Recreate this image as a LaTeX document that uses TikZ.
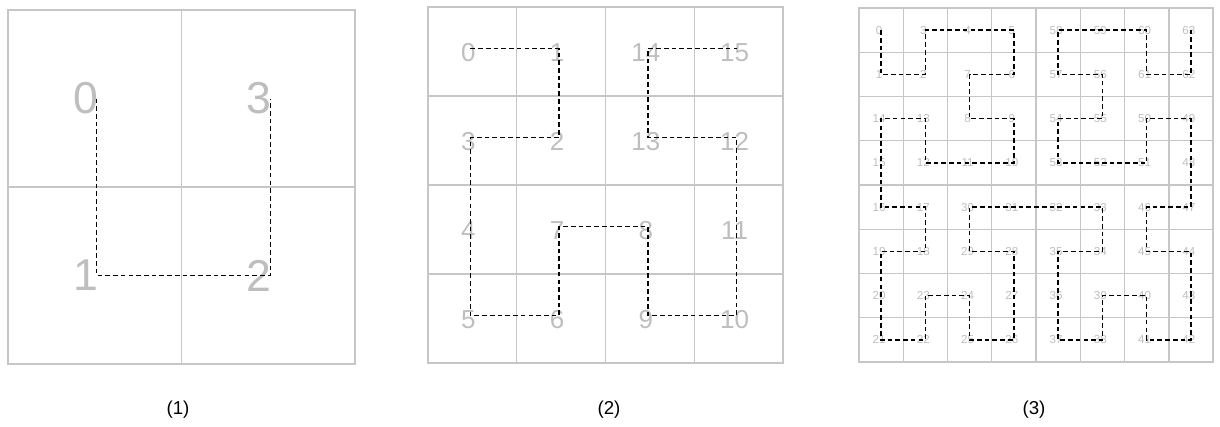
\documentclass[tikz,border=0pt]{standalone}
\usepackage{fontspec}
\setmainfont{Liberation Sans}
\usetikzlibrary{positioning}
\definecolor{gridgray}{HTML}{C6C6C6}
\definecolor{labelgray}{HTML}{BEBEBE}

\begin{document}
\begin{tikzpicture}[
  x=0.75pt, y=-0.75pt,
  grid/.style={draw=gridgray, line width=1.1pt},
  curve/.style={draw=black, line width=1pt, dash pattern=on 3.5pt off 2.3pt},
  num/.style={text=labelgray, inner sep=0pt},
  captext/.style={font=\fontsize{14}{16}\selectfont, inner sep=0pt}
]
\useasboundingbox (0,0) rectangle (1220,426);

% (1) order 1
\draw[grid] (8,10) rectangle (355,364);
\draw[grid] (181.5,10) -- (181.5,364);
\draw[grid] (8,187) -- (355,187);
\foreach \row [count=\r from 0] in {{0,3},{1,2}} {
  \foreach \n [count=\c from 0] in \row {
    \coordinate (a\n) at ({8+173.5*(\c+0.5)+2},{10+177*(\r+0.5)});
    \node[num, font=\fontsize{33.5}{38}\selectfont] (la\n)
      at ({8+173.5*(\c+0.5)-9},{10+177*(\r+0.5)}) {\n};
  }
}
\draw[curve] (a0) \foreach \i in {1,...,3} {-- (a\i)};
\node[captext] (cap1) at (178,410) {(1)};

% (2) order 2
\draw[grid] (428,7) rectangle (783,363);
\foreach \k in {1,2,3} {
  \draw[grid] ({428+88.75*\k},7) -- ({428+88.75*\k},363);
  \draw[grid] (428,{7+89*\k}) -- (783,{7+89*\k});
}
\foreach \row [count=\r from 0] in {{0,1,14,15},{3,2,13,12},{4,7,8,11},{5,6,9,10}} {
  \foreach \n [count=\c from 0] in \row {
    \coordinate (b\n) at ({428+88.75*(\c+0.5)-2},{7+89*(\r+0.5)-3});
    \node[num, font=\fontsize{19.5}{22}\selectfont] (lb\n)
      at ({428+88.75*(\c+0.5)-4},{7+89*(\r+0.5)+1}) {\n};
  }
}
\draw[curve] (b0) \foreach \i in {1,...,15} {-- (b\i)};
\node[captext] (cap2) at (609,410) {(2)};

% (3) order 3
\draw[grid] (859,8) rectangle (1213,362);
\foreach \k in {1,...,7} {
  \draw[grid] ({859+44.25*\k},8) -- ({859+44.25*\k},362);
  \draw[grid] (859,{8+44.25*\k}) -- (1213,{8+44.25*\k});
}
\foreach \row [count=\r from 0] in {
    {0,3,4,5,58,59,60,63},
    {1,2,7,6,57,56,61,62},
    {14,13,8,9,54,55,50,49},
    {15,12,11,10,53,52,51,48},
    {16,17,30,31,32,33,46,47},
    {19,18,29,28,35,34,45,44},
    {20,23,24,27,36,39,40,43},
    {21,22,25,26,37,38,41,42}} {
  \foreach \n [count=\c from 0] in \row {
    \coordinate (c\n) at ({859+44.25*(\c+0.5)},{8+44.25*(\r+0.5)});
    \node[num, font=\fontsize{8.7}{10}\selectfont] (lc\n)
      at ({859+44.25*(\c+0.5)-2},{8+44.25*(\r+0.5)}) {\n};
  }
}
\draw[curve] (c0) \foreach \i in {1,...,63} {-- (c\i)};
\node[captext] (cap3) at (1034,410) {(3)};
\end{tikzpicture}
\end{document}
